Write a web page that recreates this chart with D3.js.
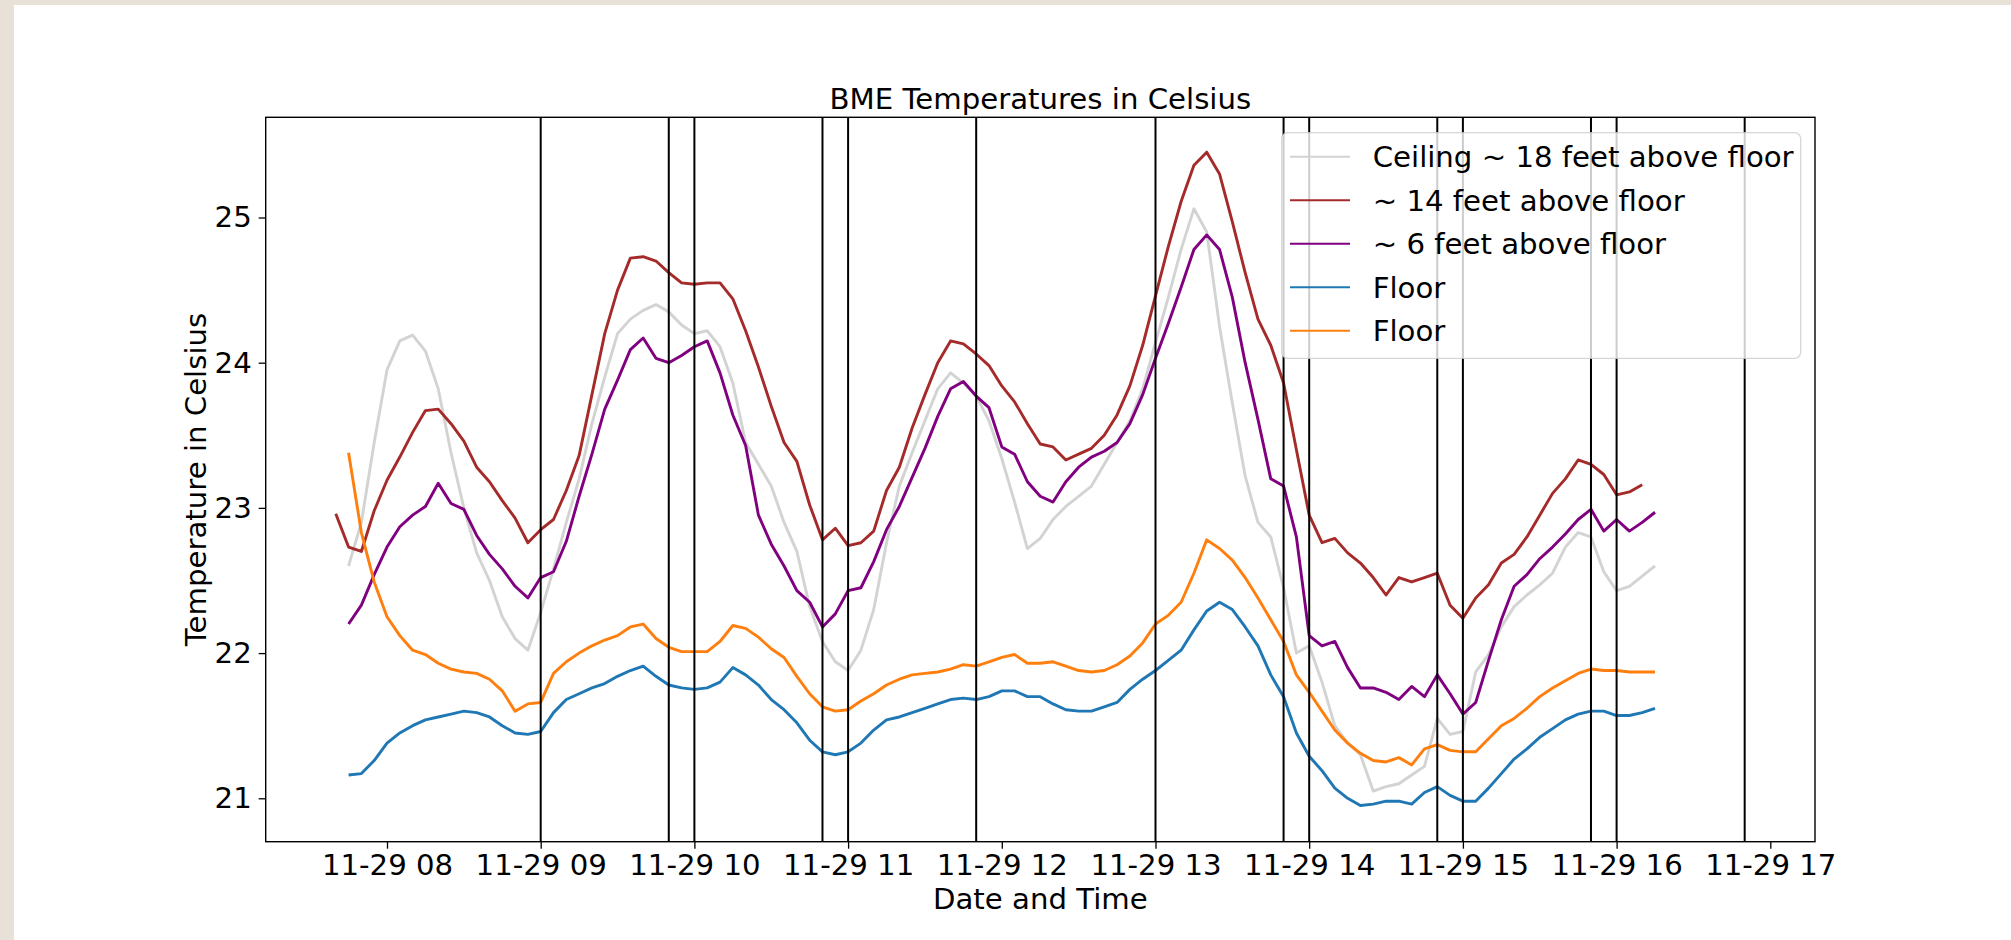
<!DOCTYPE html>
<html>
<head>
<meta charset="utf-8">
<script src="https://cdn.jsdelivr.net/npm/d3@7"></script>
<style>
    body { margin: 0; background: #ffffff; }
    svg { display: block; font-family: "DejaVu Sans", sans-serif; }
</style>
</head>
<body>
<svg width="2011" height="940"></svg>
<script>
// sample times, 11-29, every 5 minutes
var times = [
    "07:40", "07:45", "07:50", "07:55",
    "08:00", "08:05", "08:10", "08:15", "08:20", "08:25", "08:30", "08:35", "08:40", "08:45", "08:50", "08:55",
    "09:00", "09:05", "09:10", "09:15", "09:20", "09:25", "09:30", "09:35", "09:40", "09:45", "09:50", "09:55",
    "10:00", "10:05", "10:10", "10:15", "10:20", "10:25", "10:30", "10:35", "10:40", "10:45", "10:50", "10:55",
    "11:00", "11:05", "11:10", "11:15", "11:20", "11:25", "11:30", "11:35", "11:40", "11:45", "11:50", "11:55",
    "12:00", "12:05", "12:10", "12:15", "12:20", "12:25", "12:30", "12:35", "12:40", "12:45", "12:50", "12:55",
    "13:00", "13:05", "13:10", "13:15", "13:20", "13:25", "13:30", "13:35", "13:40", "13:45", "13:50", "13:55",
    "14:00", "14:05", "14:10", "14:15", "14:20", "14:25", "14:30", "14:35", "14:40", "14:45", "14:50", "14:55",
    "15:00", "15:05", "15:10", "15:15", "15:20", "15:25", "15:30", "15:35", "15:40", "15:45", "15:50", "15:55",
    "16:00", "16:05", "16:10", "16:15"
];

var ceiling = [
    null, 22.60, 22.90, 23.45,
    23.95, 24.15, 24.19, 24.08, 23.82, 23.38, 23.00, 22.69, 22.50, 22.25, 22.10, 22.02,
    22.28, 22.58, 22.90, 23.20, 23.58, 23.90, 24.20, 24.30, 24.36, 24.40, 24.35, 24.26,
    24.20, 24.22, 24.11, 23.86, 23.45, 23.30, 23.15, 22.90, 22.70, 22.32, 22.08, 21.94,
    21.88, 22.02, 22.30, 22.76, 23.15, 23.38, 23.60, 23.82, 23.93, 23.86, 23.77, 23.60,
    23.34, 23.04, 22.72, 22.79, 22.92, 23.01, 23.08, 23.15, 23.30, 23.45, 23.60, 23.82,
    24.14, 24.45, 24.78, 25.06, 24.90, 24.25, 23.72, 23.22, 22.90, 22.80, 22.45, 22.00,
    22.05, 21.80, 21.50, 21.38, 21.30, 21.05, 21.08, 21.10, 21.16, 21.22, 21.55, 21.44,
    21.46, 21.87, 21.99, 22.18, 22.32, 22.40, 22.47, 22.55, 22.73, 22.83, 22.80, 22.56,
    22.43, 22.46, 22.53, 22.60
];

var feet14 = [
    22.96, 22.73, 22.70, 22.98,
    23.19, 23.35, 23.52, 23.67, 23.68, 23.58, 23.46, 23.28, 23.18, 23.05, 22.93, 22.76,
    22.85, 22.92, 23.12, 23.36, 23.78, 24.20, 24.50, 24.72, 24.73, 24.70, 24.62, 24.55,
    24.54, 24.55, 24.55, 24.44, 24.22, 23.97, 23.70, 23.45, 23.32, 23.02, 22.78, 22.86,
    22.74, 22.76, 22.84, 23.12, 23.28, 23.55, 23.78, 24.00, 24.15, 24.13, 24.06, 23.98,
    23.84, 23.73, 23.58, 23.44, 23.42, 23.33, 23.37, 23.41, 23.50, 23.64, 23.84, 24.12,
    24.46, 24.80, 25.11, 25.36, 25.45, 25.30, 24.97, 24.62, 24.30, 24.12, 23.86, 23.40,
    22.95, 22.76, 22.79, 22.69, 22.62, 22.52, 22.40, 22.52, 22.49, 22.52, 22.55, 22.33,
    22.24, 22.38, 22.47, 22.62, 22.68, 22.80, 22.95, 23.10, 23.20, 23.33, 23.30, 23.23,
    23.09, 23.11, 23.16, null
];

var feet6 = [
    null, 22.20, 22.33, 22.54,
    22.73, 22.87, 22.95, 23.01, 23.17, 23.03, 22.99, 22.81, 22.68, 22.58, 22.46, 22.38,
    22.52, 22.56, 22.77, 23.08, 23.37, 23.68, 23.88, 24.09, 24.17, 24.03, 24.00, 24.05,
    24.11, 24.15, 23.93, 23.64, 23.43, 22.95, 22.75, 22.60, 22.43, 22.35, 22.18, 22.27,
    22.43, 22.45, 22.63, 22.85, 23.01, 23.21, 23.41, 23.63, 23.82, 23.87, 23.77, 23.69,
    23.42, 23.37, 23.18, 23.08, 23.04, 23.18, 23.28, 23.35, 23.39, 23.45, 23.58, 23.78,
    24.03, 24.27, 24.52, 24.78, 24.88, 24.78, 24.45, 24.00, 23.61, 23.20, 23.15, 22.80,
    22.12, 22.05, 22.08, 21.90, 21.76, 21.76, 21.73, 21.68, 21.77, 21.70, 21.85, 21.72,
    21.58, 21.66, 21.95, 22.23, 22.46, 22.54, 22.65, 22.73, 22.82, 22.92, 22.99, 22.84,
    22.92, 22.84, 22.90, 22.97
];

var floorBlue = [
    null, 21.16, 21.17, 21.26,
    21.38, 21.45, 21.50, 21.54, 21.56, 21.58, 21.60, 21.59, 21.56, 21.50, 21.45, 21.44,
    21.46, 21.59, 21.68, 21.72, 21.76, 21.79, 21.84, 21.88, 21.91, 21.84, 21.78, 21.76,
    21.75, 21.76, 21.80, 21.90, 21.85, 21.78, 21.68, 21.61, 21.52, 21.40, 21.32, 21.30,
    21.32, 21.38, 21.47, 21.54, 21.56, 21.59, 21.62, 21.65, 21.68, 21.69, 21.68, 21.70,
    21.74, 21.74, 21.70, 21.70, 21.65, 21.61, 21.60, 21.60, 21.63, 21.66, 21.75, 21.82,
    21.88, 21.95, 22.02, 22.16, 22.29, 22.35, 22.30, 22.18, 22.05, 21.85, 21.70, 21.45,
    21.29, 21.19, 21.07, 21.00, 20.95, 20.96, 20.98, 20.98, 20.96, 21.04, 21.08, 21.02,
    20.98, 20.98, 21.07, 21.17, 21.27, 21.34, 21.42, 21.48, 21.54, 21.58, 21.60, 21.60,
    21.57, 21.57, 21.59, 21.62
];

var floorOrange = [
    null, 23.38, 22.83, 22.49,
    22.25, 22.12, 22.02, 21.99, 21.93, 21.89, 21.87, 21.86, 21.82, 21.74, 21.60, 21.65,
    21.66, 21.86, 21.94, 22.00, 22.05, 22.09, 22.12, 22.18, 22.20, 22.10, 22.04, 22.01,
    22.01, 22.01, 22.08, 22.19, 22.17, 22.11, 22.03, 21.97, 21.84, 21.72, 21.63, 21.60,
    21.61, 21.67, 21.72, 21.78, 21.82, 21.85, 21.86, 21.87, 21.89, 21.92, 21.91, 21.94,
    21.97, 21.99, 21.93, 21.93, 21.94, 21.91, 21.88, 21.87, 21.88, 21.92, 21.98, 22.07,
    22.20, 22.26, 22.35, 22.55, 22.78, 22.72, 22.64, 22.52, 22.38, 22.23, 22.08, 21.85,
    21.73, 21.60, 21.47, 21.38, 21.31, 21.26, 21.25, 21.28, 21.23, 21.34, 21.37, 21.33,
    21.32, 21.32, 21.41, 21.50, 21.55, 21.62, 21.70, 21.76, 21.81, 21.86, 21.89, 21.88,
    21.88, 21.87, 21.87, 21.87
];

// times of the black vertical marker lines
var markers = ["09:00", "09:50", "10:00", "10:50", "11:00", "11:50", "13:00",
    "13:50", "14:00", "14:50", "15:00", "15:50", "16:00", "16:50"];

var yTicks = [21, 22, 23, 24, 25];

var labels = ["Ceiling ~ 18 feet above floor", "~ 14 feet above floor",
    "~ 6 feet above floor", "Floor", "Floor"];
var colors = ["#d3d3d3", "#a52a2a", "#800080", "#1f77b4", "#ff7f0e"];

window.onload = main;

function main() {
    var svg = d3.select("svg");
    var box = { left: 265.7, right: 1815, top: 117.3, bottom: 841.7 };
    var fontSize = 29.2;
    var parse = d3.timeParse("%Y-%m-%d %H:%M:%S");
    var day = "2019-11-29 ";

    // screenshot border
    svg.append("rect").attr("x", 0).attr("y", 0).attr("width", 2011).attr("height", 5).attr("fill", "#e7e1d7");
    svg.append("rect").attr("x", 0).attr("y", 0).attr("width", 14).attr("height", 940).attr("fill", "#e7e1d7");

    var x = d3
        .scaleTime()
        .domain([parse(day + "07:12:39"), parse(day + "17:17:27")])
        .range([box.left, box.right]);
    var y = d3.scaleLinear().domain([20.701, 25.69]).range([box.bottom, box.top]);

    var series = [ceiling, feet14, feet6, floorBlue, floorOrange];

    var line = d3
        .line()
        .defined((d) => d.v != null)
        .x((d) => x(d.t))
        .y((d) => y(d.v));

    svg.append("g")
        .selectAll("path")
        .data(series)
        .enter()
        .append("path")
        .attr("fill", "none")
        .attr("stroke", (d, i) => colors[i])
        .attr("stroke-width", 2.9)
        .attr("stroke-linejoin", "round")
        .attr("d", (vals) =>
            line(vals.map((v, i) => ({ t: parse(day + times[i] + ":00"), v: v })))
        );

    // vertical marker lines
    svg.append("g")
        .selectAll("line")
        .data(markers)
        .enter()
        .append("line")
        .attr("x1", (d) => x(parse(day + d + ":00")))
        .attr("x2", (d) => x(parse(day + d + ":00")))
        .attr("y1", box.top)
        .attr("y2", box.bottom)
        .attr("stroke", "#000")
        .attr("stroke-width", 2);

    // frame
    svg.append("rect")
        .attr("x", box.left)
        .attr("y", box.top)
        .attr("width", box.right - box.left)
        .attr("height", box.bottom - box.top)
        .attr("fill", "none")
        .attr("stroke", "#000")
        .attr("stroke-width", 1.4);

    var xAxis = d3
        .axisBottom(x)
        .ticks(d3.timeHour.every(1))
        .tickFormat(d3.timeFormat("%m-%d %H"))
        .tickSize(7)
        .tickPadding(6)
        .tickSizeOuter(0);
    var gx = svg.append("g").attr("transform", "translate(0," + box.bottom + ")").call(xAxis);

    var yAxis = d3
        .axisLeft(y)
        .tickValues(yTicks)
        .tickFormat(d3.format("d"))
        .tickSize(7)
        .tickPadding(7)
        .tickSizeOuter(0);
    var gy = svg.append("g").attr("transform", "translate(" + box.left + ",0)").call(yAxis);

    [gx, gy].forEach((g) => {
        g.select(".domain").remove();
        g.attr("font-size", fontSize).attr("font-family", null);
        g.selectAll("line").attr("stroke-width", 1.3);
        g.selectAll("text").attr("fill", "#000");
    });

    // legend
    var lx = 1281.7, ly = 132.7;
    var legend = svg.append("g");
    legend.append("rect")
        .attr("x", lx)
        .attr("y", ly)
        .attr("width", 1800.7 - lx)
        .attr("height", 358.3 - ly)
        .attr("rx", 6)
        .attr("fill", "#fff")
        .attr("fill-opacity", 0.8)
        .attr("stroke", "#cccccc")
        .attr("stroke-opacity", 0.8)
        .attr("stroke-width", 1.3);
    var rows = legend.selectAll("g.row")
        .data(labels)
        .enter()
        .append("g")
        .attr("transform", (d, i) => "translate(0," + (156.7 + i * 43.5) + ")");
    rows.append("line")
        .attr("x1", 1290)
        .attr("x2", 1350)
        .attr("stroke", (d, i) => colors[i])
        .attr("stroke-width", 2);
    rows.append("text")
        .attr("x", 1372.7)
        .attr("y", 10.3)
        .attr("font-size", fontSize)
        .text((d) => d);

    svg.append("text")
        .attr("x", (box.left + box.right) / 2)
        .attr("y", 109.3)
        .attr("text-anchor", "middle")
        .attr("font-size", fontSize)
        .text("BME Temperatures in Celsius");

    svg.append("text")
        .attr("x", (box.left + box.right) / 2)
        .attr("y", 909)
        .attr("text-anchor", "middle")
        .attr("font-size", fontSize)
        .text("Date and Time");

    svg.append("text")
        .attr("transform", "translate(206," + (box.top + box.bottom) / 2 + ") rotate(-90)")
        .attr("text-anchor", "middle")
        .attr("font-size", fontSize)
        .text("Temperature in Celsius");
}
</script>
</body>
</html>
